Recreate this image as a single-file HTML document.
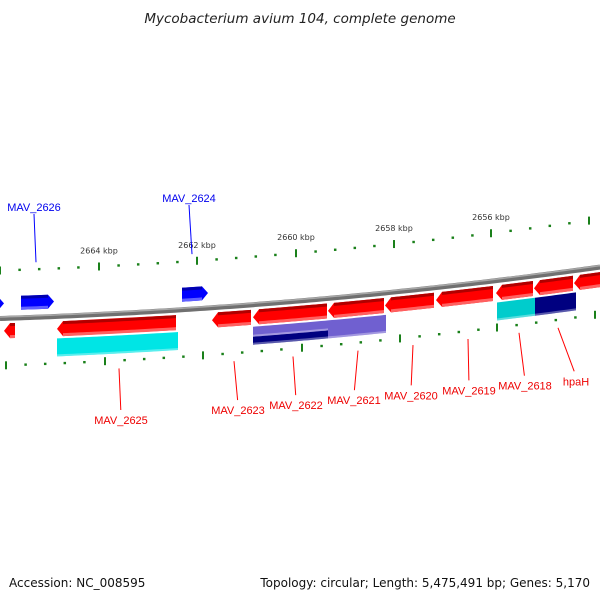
<!DOCTYPE html>
<html><head><meta charset="utf-8"><style>
html,body{margin:0;padding:0;background:#fff;width:600px;height:600px;overflow:hidden}
svg{display:block;font-family:"DejaVu Sans","Liberation Sans",sans-serif}
</style></head><body>
<svg id="map" width="600" height="600">
<text x="300" y="23" text-anchor="middle" font-size="13.5" font-style="italic" fill="#222">Mycobacterium avium 104, complete genome</text>
<text x="9" y="587" font-size="12" fill="#111">Accession: NC_008595</text>
<text x="590" y="587" text-anchor="end" font-size="12" fill="#111">Topology: circular; Length: 5,475,491 bp; Genes: 5,170</text>
</svg>
<script>
const tickKbp = [2666, 2664, 2662, 2660, 2658, 2656, 2654];
const tickX = [0, 99, 197, 296, 394, 491, 589];
const kbpLabels = ["2664 kbp","2662 kbp","2660 kbp","2658 kbp","2656 kbp"];
const geneStarts = [0, 21, 182, 4, 57, 212, 253, 328, 385, 436, 496, 534, 574];
const geneEnds = [4, 54, 208, 15, 176, 251, 327, 384, 434, 493, 533, 573, 600];
const geneStrand = [1, 1, 1, -1, -1, -1, -1, -1, -1, -1, -1, -1, -1];
const hitStarts = [57, 253, 253, 328, 497, 535];
const hitEnds = [178, 328, 328, 386, 535, 576];
const hitColors = ["#00e5e5", "#7060d0", "#000080", "#7060d0", "#00cccc", "#000080"];
const hitRows = [0, 2, 1, 0, 0, 0];
const redLabels = ["MAV_2625","MAV_2623","MAV_2622","MAV_2621","MAV_2620","MAV_2619","MAV_2618","hpaH"];
const redLabelX = [121, 238, 296, 354, 411, 469, 525, 576];
const redAnchorX = [119, 234, 293, 358, 413, 468, 519, 558];
const blueLabels = ["MAV_2626","MAV_2624"];
const blueLabelX = [34, 189];
const blueAnchorX = [36, 192];

const NS="http://www.w3.org/2000/svg";
const svg=document.getElementById('map');
function f(x){return 318.5-0.0317*x-9.0e-5*x*x;}
function mk(tag,attrs){const e=document.createElementNS(NS,tag);for(const k in attrs)e.setAttribute(k,attrs[k]);svg.appendChild(e);return e;}
function band(x1,x2,o1,o2){let p=[];for(let x=x1;x<=x2;x+=4)p.push(x+','+(f(x)+o1));p.push(x2+','+(f(x2)+o1));p.push(x2+','+(f(x2)+o2));for(let x=x2;x>=x1;x-=4)p.push(x+','+(f(x)+o2));p.push(x1+','+(f(x1)+o2));return p.join(' ');}

let d='M0,'+f(0);for(let x=5;x<=600;x+=5)d+=' L'+x+','+f(x);
let bb=mk('path',{d:d,stroke:'#707070',"stroke-width":5,fill:'none'});


let bb2=mk('path',{d:d,stroke:'#a8a8a8',"stroke-width":1.5,fill:'none',transform:'translate(0,-1.5)'});



for(let i=0;i<tickX.length;i++){
  for(let j=0;j<5;j++){
    const x=tickX[i]+j*19.6; if(x>600)break;
    const major=j===0;
    [[-48,0],[47,6]].forEach(([off,sh])=>{
      const xx=x+sh, y=f(xx)+off;
      const t=mk('line',{x1:xx,y1:major?y-4:y-1.2,x2:xx,y2:major?y+4:y+1.2,stroke:'#1a801a',"stroke-width":major?2:2.5});
      
      
    });
  }
  if(i>=1&&i<=kbpLabels.length){
    const x=tickX[i];
    const l=mk('text',{x:x,y:f(x)-61,"text-anchor":"middle","font-size":8,fill:'#333'});
    l.textContent=kbpLabels[i-1];
    
    
  }
}

for(let i=0;i<geneStarts.length;i++){
  const x1=geneStarts[i],x2=geneEnds[i],s=geneStrand[i];
  const o1=s>0?-22:5,o2=s>0?-8:20;
  const col=s>0?'#0000ff':'#ff0000',dark=s>0?'#0000b0':'#b00000',light=s>0?'#6060ff':'#ff6060';
  const g=document.createElementNS(NS,'g');svg.appendChild(g);
  
  
  const h=6,mid=(o1+o2)/2;
  let pts;
  if(s>0){pts=[x1+','+(f(x1)+o1),(x2-h)+','+(f(x2-h)+o1),x2+','+(f(x2)+mid),(x2-h)+','+(f(x2-h)+o2),x1+','+(f(x1)+o2)];}
  else{pts=[x1+','+(f(x1)+mid),(x1+h)+','+(f(x1+h)+o1),x2+','+(f(x2)+o1),x2+','+(f(x2)+o2),(x1+h)+','+(f(x1+h)+o2)];}
  const p=document.createElementNS(NS,'polygon');p.setAttribute('points',pts.join(' '));p.setAttribute('fill',col);g.appendChild(p);
  const a=x1+(s<0?h:0),b=x2-(s>0?h:0);
  if(b>a){
    const t=document.createElementNS(NS,'polygon');t.setAttribute('points',band(a,b,o1,o1+3));t.setAttribute('fill',dark);g.appendChild(t);
    const u=document.createElementNS(NS,'polygon');u.setAttribute('points',band(a,b,o2-3,o2));u.setAttribute('fill',light);g.appendChild(u);
  }
}
const rowTop=[22,32,22], rowBot=[40,40,32];
for(let i=0;i<hitStarts.length;i++){
  const o1=rowTop[hitRows[i]],o2=rowBot[hitRows[i]];
  const h=mk('polygon',{points:band(hitStarts[i],hitEnds[i],o1,o2),fill:hitColors[i]});
  
  
  const hl=mk('polygon',{points:band(hitStarts[i],hitEnds[i],o2-2,o2),fill:'#ffffff',opacity:0.35});
  
  
}
for(let i=0;i<redLabels.length;i++){
  const ax=redAnchorX[i],lx=redLabelX[i];
  const ly=420-(lx-121)*0.085;
  const ln=mk('line',{x1:ax,y1:f(ax)+55,x2:lx-(lx-ax)*0.1,y2:ly-10,stroke:'#f00',"stroke-width":1});
  
  
  const t=mk('text',{x:lx,y:ly+4,"text-anchor":"middle","font-size":11,fill:'#e00',"font-family":"Liberation Sans, sans-serif"});
  t.textContent=redLabels[i];
  
  
}
for(let i=0;i<blueLabels.length;i++){
  const ax=blueAnchorX[i],lx=blueLabelX[i];
  const ln=mk('line',{x1:lx,y1:i?205:214,x2:ax,y2:f(ax)-55,stroke:'#00f',"stroke-width":1});
  
  
  const t=mk('text',{x:lx,y:i?202:211,"text-anchor":"middle","font-size":11,fill:'#00e',"font-family":"Liberation Sans, sans-serif"});
  t.textContent=blueLabels[i];
  
  
}
</script>
</body></html>
